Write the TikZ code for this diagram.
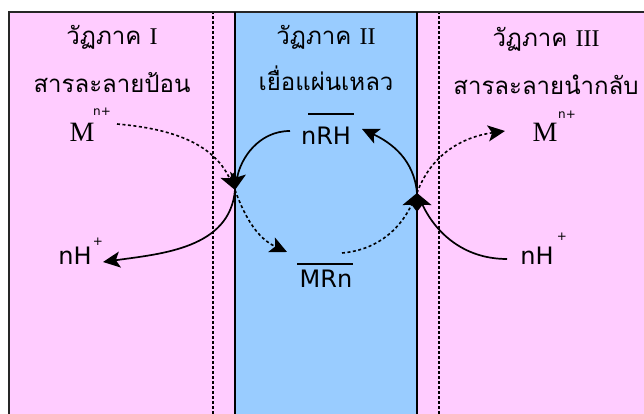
\documentclass[tikz,border=0pt]{standalone}
\usepackage{fontspec}
\usetikzlibrary{arrows.meta}
\newfontfamily\thaifont[Script=Thai]{Loma}
\newfontfamily\serffont{Liberation Serif}
\newfontfamily\sansfnt{DejaVu Sans}
\definecolor{phasepink}{HTML}{FFCCFF}
\definecolor{membblue}{HTML}{99CCFF}
\tikzset{
  titletext/.style={inner sep=0pt, anchor=base, font=\thaifont\fontsize{24}{26}\selectfont},
  chemtext/.style={inner sep=0pt, anchor=base, font=\sansfnt\fontsize{24}{26}\selectfont},
  serifM/.style={inner sep=0pt, anchor=base, font=\serffont\fontsize{28}{30}\selectfont},
  suptext/.style={inner sep=0pt, font=\sansfnt\fontsize{12}{13}\selectfont},
  solidarrow/.style={line width=1.7pt, -{Stealth[length=17pt,width=16pt,inset=4pt]}},
  dotarrow/.style={line width=1.6pt, dash pattern=on 3pt off 2.5pt, -{Stealth[length=17pt,width=16pt,inset=4pt]}},
  dotline/.style={line width=1.4pt, dash pattern=on 3pt off 2pt},
}
\begin{document}
\begin{tikzpicture}[x=1pt,y=1pt]
\useasboundingbox (0,0) rectangle (644,414);
\fill[white] (0,0) rectangle (644,414);
\fill[phasepink] (9,0) rectangle (644,402);
\fill[membblue] (235,0) rectangle (417,402);
\draw[line width=2pt, black!85] (9,0) -- (9,402) -- (644,402);
\draw[line width=1.6pt] (235,0) -- (235,402);
\draw[line width=1.6pt] (417,0) -- (417,402);
\draw[dotline] (213,0) -- (213,401);
\draw[dotline] (439,0) -- (439,401);
% titles
\node[titletext] (t1a) at (112,369) {วัฏภาค {\serffont I}};
\node[titletext] (t1b) at (112,321) {สารละลายป้อน};
\node[titletext] (t2a) at (326,369) {วัฏภาค {\serffont II}};
\node[titletext] (t2b) at (326,323) {เยื่อแผ่นเหลว};
\node[titletext] (t3a) at (546,367) {วัฏภาค {\serffont III}};
\node[titletext] (t3b) at (546,319) {สารละลายนำกลับ};
% species
\node[serifM] (Ml) at (82,272) {M};
\node[suptext] (Mlsup) at (102,302) {n+};
\node[serifM] (Mr) at (545,272) {M};
\node[suptext] (Mrsup) at (567,299) {n+};
\node[chemtext] (nRH) at (326,269) {nRH};
\draw[line width=1.6pt] (308,300) -- (354,300);
\node[chemtext] (MRn) at (326,126) {MRn};
\draw[line width=1.6pt] (297,150) -- (353,150);
\node[chemtext] (nHl) at (75,149) {nH};
\node[suptext] (nHlsup) at (98,172) {+};
\node[chemtext] (nHr) at (537,149) {nH};
\node[suptext] (nHrsup) at (562,177) {+};
% junctions and ends
\coordinate (jl) at (235,224);
\coordinate (jr) at (417,221);
\coordinate (a1s) at (290,283);
\coordinate (a2s) at (117,290);
\coordinate (a3e) at (103,152);
\coordinate (a4e) at (287,162);
\coordinate (a5s) at (507,155);
\coordinate (a6s) at (342,161);
\coordinate (a7e) at (362,285);
\coordinate (a8e) at (505,283);
% arrows
\draw[solidarrow] (a1s) to[out=180,in=80] (jl);
\draw[dotarrow] (a2s) to[out=-5,in=115] (jl);
\draw[solidarrow] (jl) to[out=-95,in=8] (a3e);
\draw[dotarrow] (jl) to[out=-70,in=155] (a4e);
\draw[solidarrow] (a5s) to[out=180,in=-65] (jr);
\draw[dotarrow] (a6s) to[out=5,in=-115] (jr);
\draw[solidarrow] (jr) to[out=95,in=-25] (a7e);
\draw[dotarrow] (jr) to[out=70,in=188] (a8e);
\end{tikzpicture}
\end{document}
